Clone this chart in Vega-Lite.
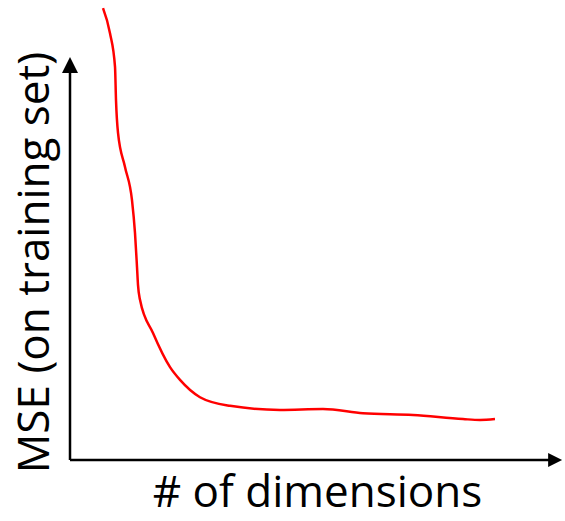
{
  "$schema": "https://vega.github.io/schema/vega-lite/v6.json",
  "width": 492,
  "height": 455,
  "autosize": {"type": "none"},
  "padding": {"left": 70, "top": 5, "right": 3, "bottom": 61},
  "background": "white",
  "config": {
    "view": {"stroke": null},
    "font": "Open Sans",
    "axis": {
      "domain": false,
      "ticks": false,
      "labels": false,
      "grid": false,
      "titleFont": "Open Sans",
      "titleFontSize": 44,
      "titleFontWeight": "normal",
      "titleColor": "black"
    }
  },
  "datasets": {
    "curve": [
      {"dims": 6.71, "mse": 99.3},
      {"dims": 8.13, "mse": 93.8},
      {"dims": 9.15, "mse": 86.4},
      {"dims": 9.35, "mse": 79.1},
      {"dims": 9.76, "mse": 71.9},
      {"dims": 11.18, "mse": 64.4},
      {"dims": 12.6, "mse": 57.1},
      {"dims": 13.21, "mse": 49.9},
      {"dims": 13.62, "mse": 42.4},
      {"dims": 13.82, "mse": 38.5},
      {"dims": 14.23, "mse": 35.2},
      {"dims": 16.87, "mse": 27.9},
      {"dims": 20.33, "mse": 20.4},
      {"dims": 22.36, "mse": 17.6},
      {"dims": 26.42, "mse": 13.8},
      {"dims": 32.52, "mse": 11.9},
      {"dims": 42.68, "mse": 11.0},
      {"dims": 51.42, "mse": 11.2},
      {"dims": 59.55, "mse": 10.3},
      {"dims": 69.72, "mse": 9.9},
      {"dims": 79.88, "mse": 9.0},
      {"dims": 83.33, "mse": 8.8},
      {"dims": 86.38, "mse": 9.0}
    ],
    "axes": [
      {"x": 0, "y": 0, "x2": 98.6, "y2": 0},
      {"x": 0, "y": 0, "x2": 0, "y2": 86.8}
    ],
    "arrowY": [{"x": 0, "y": 86.8}],
    "arrowX": [{"x": 98.6, "y": 0}]
  },
  "layer": [
    {
      "data": {"name": "axes"},
      "mark": {"type": "rule", "color": "black", "strokeWidth": 2.5},
      "encoding": {
        "x": {"field": "x", "type": "quantitative", "scale": {"domain": [0, 100]}, "title": "# of dimensions", "axis": {"titleX": 247, "titleY": 46, "titleBaseline": "alphabetic", "titleAlign": "center"}},
        "y": {"field": "y", "type": "quantitative", "scale": {"domain": [0, 100]}, "title": "MSE (on training set)", "axis": {"titleX": -22, "titleY": 257, "titleBaseline": "alphabetic", "titleAlign": "center", "titleAngle": 270}},
        "x2": {"field": "x2"},
        "y2": {"field": "y2"}
      }
    },
    {
      "data": {"name": "arrowY"},
      "mark": {"type": "point", "shape": "M0,-1L1,1L-1,1Z", "filled": true, "color": "black", "opacity": 1, "size": 256},
      "encoding": {
        "x": {"field": "x", "type": "quantitative"},
        "y": {"field": "y", "type": "quantitative"}
      }
    },
    {
      "data": {"name": "arrowX"},
      "mark": {"type": "point", "shape": "M1,0L-1,-1L-1,1Z", "filled": true, "color": "black", "opacity": 1, "size": 196},
      "encoding": {
        "x": {"field": "x", "type": "quantitative"},
        "y": {"field": "y", "type": "quantitative"}
      }
    },
    {
      "data": {"name": "curve"},
      "mark": {"type": "line", "color": "#ff0000", "strokeWidth": 2.5, "interpolate": "monotone"},
      "encoding": {
        "x": {"field": "dims", "type": "quantitative"},
        "y": {"field": "mse", "type": "quantitative"}
      }
    }
  ]
}
